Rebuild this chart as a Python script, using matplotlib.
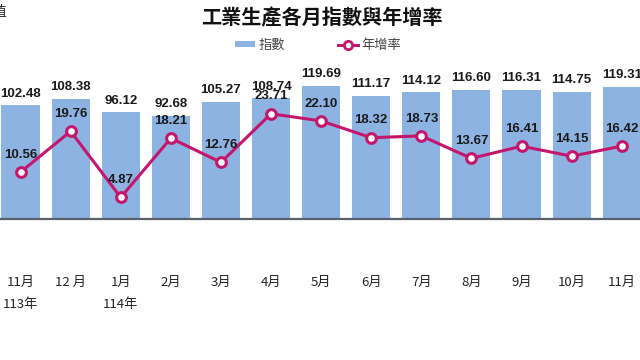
import matplotlib
matplotlib.use("Agg")
import matplotlib.pyplot as plt
from matplotlib.lines import Line2D
from matplotlib.patches import Patch

months = ["11月", "12 月", "1月", "2月", "3月", "4月", "5月", "6月", "7月", "8月", "9月", "10月", "11月"]
years = {0: "113年", 2: "114年"}
index_vals = [102.48, 108.38, 96.12, 92.68, 105.27, 108.74, 119.69, 111.17, 114.12, 116.60, 116.31, 114.75, 119.31]
growth_vals = [10.56, 19.76, 4.87, 18.21, 12.76, 23.71, 22.10, 18.32, 18.73, 13.67, 16.41, 14.15, 16.42]

cjk = ["Noto Sans CJK TC", "DejaVu Sans"]
num_font = ["Liberation Sans Narrow", "Liberation Sans", "DejaVu Sans"]
bar_color = "#8db3e2"
line_color = "#c4166c"

fig = plt.figure(figsize=(6.4, 3.6), dpi=100)
ax = fig.add_axes([-0.0071, 0.3917, 1.0177, 0.493])
ax2 = ax.twinx()

x = list(range(len(months)))
ax.bar(x, index_vals, width=0.76, color=bar_color, zorder=1)
ax.set_xlim(-0.5, 12.5)
ax.set_ylim(0, 160)
ax2.set_ylim(0, 40)

ax2.plot(x, growth_vals, color=line_color, lw=2.2, marker="o", markersize=7,
         markerfacecolor="white", markeredgecolor=line_color, markeredgewidth=2.2, zorder=3)

for xi, v in zip(x, index_vals):
    ax.annotate(f"{v:.2f}", (xi, v), xytext=(0, 8.5), textcoords="offset points",
                ha="center", va="center", fontsize=9.5, fontweight="bold",
                family=num_font, color="#1a1a1a")
for xi, v in zip(x, growth_vals):
    ax2.annotate(f"{v:.2f}", (xi, v), xytext=(0, 12.5), textcoords="offset points",
                 ha="center", va="center", fontsize=9.5, fontweight="bold",
                 family=num_font, color="#1a1a1a")

for a in (ax, ax2):
    for s in ("top", "left", "right"):
        a.spines[s].set_visible(False)
    a.set_yticks([])
ax2.spines["bottom"].set_visible(False)
ax.spines["bottom"].set_color("#59606b")
ax.spines["bottom"].set_linewidth(1.6)

ax.set_xticks(x)
ax.set_xticklabels(months, family=cjk, fontsize=9.5, color="#222222")
ax.tick_params(axis="x", length=0, pad=41)

for i, yl in years.items():
    ax.annotate(yl, (i, 0), xytext=(0, -57), textcoords="offset points",
                ha="center", va="top", fontsize=9.5, family=cjk, color="#222222",
                annotation_clip=False)

fig.text(0.503, 1 - 18 / 360, "工業生產各月指數與年增率", ha="center", va="center",
         fontsize=14.5, fontweight="bold", family=cjk, color="#111111")
fig.text(7 / 640, 1 - 12 / 360, "指數值", ha="right", va="center",
         fontsize=10, family=cjk, color="#222222")

handles = [Patch(facecolor=bar_color, edgecolor="none"),
           Line2D([], [], color=line_color, lw=2.2, marker="o", markersize=6,
                  markerfacecolor="white", markeredgecolor=line_color, markeredgewidth=2)]
fig.legend(handles, ["指數", "年增率"], loc="center", bbox_to_anchor=(0.497, 1 - 45 / 360),
           ncol=2, frameon=False, prop={"family": cjk, "size": 9.5},
           handlelength=1.5, handleheight=0.35, columnspacing=4, handletextpad=0.3,
           labelcolor="#444444")

fig.savefig("out.png", dpi=100)
